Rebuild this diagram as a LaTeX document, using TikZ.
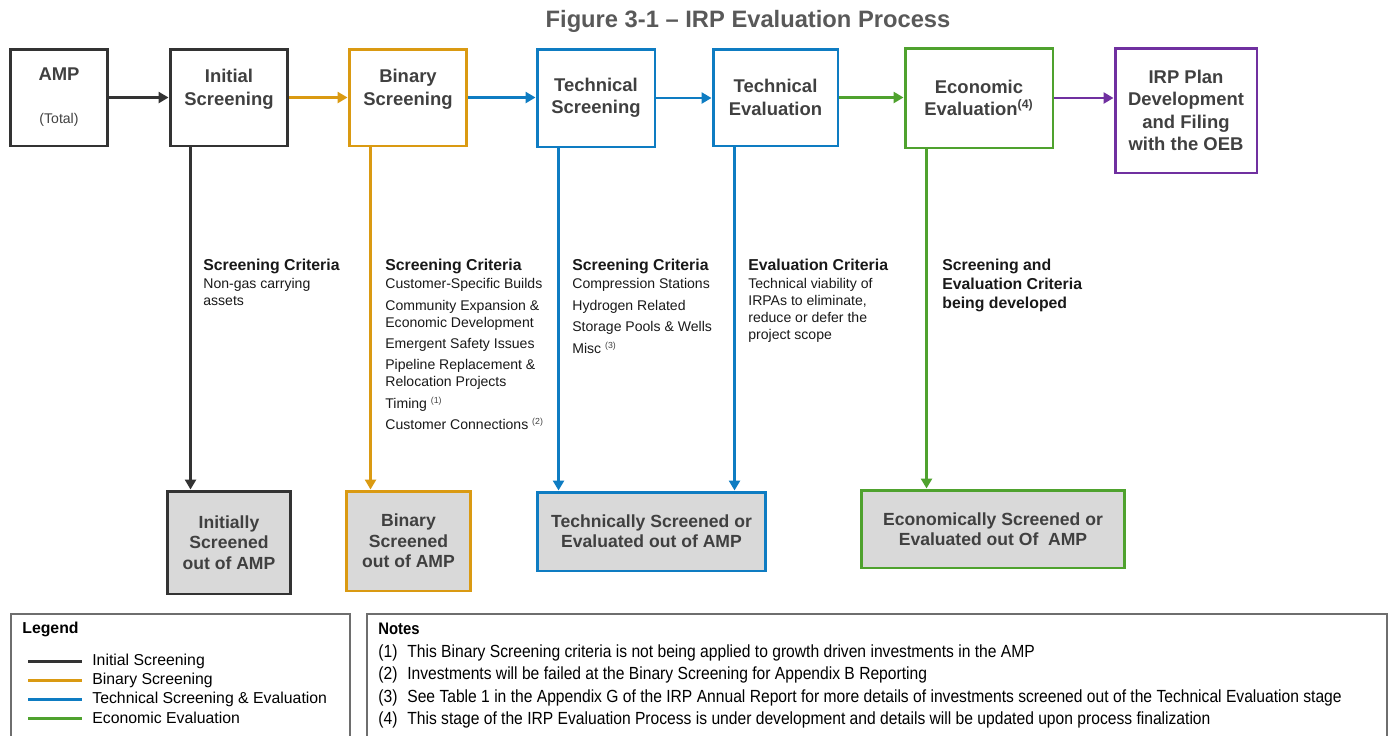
\documentclass[tikz,border=0pt]{standalone}
\usepackage{fontspec}
\setmainfont{Liberation Sans}
\newfontfamily\narrowfont{Liberation Sans}[FakeStretch=0.89]
\usetikzlibrary{arrows.meta}
\tikzset{>={Triangle[width=2.2mm,length=2mm]}}

\definecolor{ISdark}{HTML}{333333}
\definecolor{BSorange}{HTML}{DA9A12}
\definecolor{TSblue}{HTML}{0E7CC2}
\definecolor{EEgreen}{HTML}{4FA22E}
\definecolor{IRPpurple}{HTML}{7030A0}
\definecolor{outgray}{HTML}{D9D9D9}
\definecolor{txtgray}{HTML}{404040}
\definecolor{titlegray}{HTML}{595959}
\definecolor{framegray}{HTML}{6E6E6E}

\tikzset{
  stage/.style={draw=#1, line width=1.7pt, align=center, inner sep=2pt,
    font=\fontsize{10.5}{12.8}\selectfont\bfseries, text=txtgray},
  outbox/.style={draw=#1, fill=outgray, line width=1.7pt, align=center, inner sep=2pt,
    font=\fontsize{10}{11.6}\selectfont\bfseries, text=txtgray},
  flow/.style={->, draw=#1, line width=1.6pt},
  crit/.style={anchor=north west, align=left, inner sep=0pt,
    font=\fontsize{8}{9.6}\selectfont, text=black!90},
  frame/.style={draw=framegray, line width=1.2pt},
}
\newcommand{\crithead}[1]{{\fontsize{9}{9.6}\selectfont\bfseries #1}}
\newcommand{\fnmark}[1]{\textsuperscript{\textcolor{txtgray}{\fontsize{5}{6}\selectfont(#1)}}}

\begin{document}
\begin{tikzpicture}[x=0.02cm,y=-0.02cm]
\useasboundingbox (0,0) rectangle (1390,735);

\node[font=\fontsize{13.5}{16}\selectfont\bfseries, text=titlegray] (title) at (748,21)
  {Figure 3-1 -- IRP Evaluation Process};

% top row
\node[stage=ISdark, minimum width=1.96cm, minimum height=1.94cm] (amp) at (59,97.5)
  {AMP\\[11.6pt]{\fontsize{8}{9.6}\selectfont\mdseries(Total)}};
\node[stage=ISdark, minimum width=2.36cm, minimum height=1.94cm] (init) at (229,97.5)
  {Initial\\Screening\\[-1pt]\mbox{}};
\node[stage=BSorange, minimum width=2.36cm, minimum height=1.94cm] (bin) at (408,97.5)
  {Binary\\Screening\\[-1pt]\mbox{}};
\node[stage=TSblue, minimum width=2.36cm, minimum height=1.96cm] (tscr) at (596,98)
  {Technical\\Screening};
\node[stage=TSblue, minimum width=2.5cm, minimum height=1.94cm] (teval) at (775.5,97.5)
  {Technical\\Evaluation};
\node[stage=EEgreen, minimum width=2.96cm, minimum height=2cm] (econ) at (979,98)
  {Economic\\Evaluation\textsuperscript{\fontsize{7}{8}\selectfont(4)}};
\node[stage=IRPpurple, minimum width=2.84cm, minimum height=2.5cm] (irp) at (1186,110.5)
  {IRP Plan\\Development\\and Filing\\with the OEB};

% bottom row
\node[outbox=ISdark, minimum width=2.48cm, minimum height=2.06cm] (initout) at (229,542.5)
  {Initially\\Screened\\out of AMP};
\node[outbox=BSorange, minimum width=2.5cm, minimum height=2cm] (binout) at (408.5,541)
  {Binary\\Screened\\out of AMP};
\node[outbox=TSblue, minimum width=4.58cm, minimum height=1.58cm] (techout) at (651.5,531.5)
  {Technically Screened or\\Evaluated out of AMP};
\node[outbox=EEgreen, minimum width=5.28cm, minimum height=1.56cm] (econout) at (993,529)
  {Economically Screened or\\Evaluated out Of\ \ AMP};

% flow along the top
\draw[flow=ISdark] (amp.east) -- (amp.east -| init.west);
\draw[flow=BSorange] (init.east) -- (init.east -| bin.west);
\draw[flow=TSblue] (bin.east) -- (bin.east -| tscr.west);
\draw[flow=TSblue] (tscr.east) -- (tscr.east -| teval.west);
\draw[flow=EEgreen] (teval.east) -- (teval.east -| econ.west);
\draw[flow=IRPpurple] (econ.east) -- (econ.east -| irp.west);

% screened out
\draw[flow=ISdark] ([xshift=0.44cm]init.south west) -- ([xshift=0.44cm]init.south west |- initout.north);
\draw[flow=BSorange] ([xshift=0.46cm]bin.south west) -- ([xshift=0.46cm]bin.south west |- binout.north);
\draw[flow=TSblue] ([xshift=0.46cm]tscr.south west) -- ([xshift=0.46cm]tscr.south west |- techout.north);
\draw[flow=TSblue] ([xshift=0.46cm]teval.south west) -- ([xshift=0.46cm]teval.south west |- techout.north);
\draw[flow=EEgreen] ([xshift=0.46cm]econ.south west) -- ([xshift=0.46cm]econ.south west |- econout.north);

% criteria
\node[crit] (initcrit) at (203,259)
  {\crithead{Screening Criteria}\\[0.6pt]Non-gas carrying\\assets};
\node[crit] (bincrit) at (385,259)
  {\crithead{Screening Criteria}\\[0.6pt]Customer-Specific Builds\\[2.6pt]
   Community Expansion \&\\Economic Development\\[2.6pt]
   Emergent Safety Issues\\[2.6pt]
   Pipeline Replacement \&\\Relocation Projects\\[2.6pt]
   Timing \fnmark{1}\\[2.6pt]
   Customer Connections \fnmark{2}};
\node[crit] (tscrcrit) at (572,259)
  {\crithead{Screening Criteria}\\[0.6pt]Compression Stations\\[2.6pt]
   Hydrogen Related\\[2.6pt]Storage Pools \& Wells\\[2.6pt]Misc \fnmark{3}};
\node[crit] (tevalcrit) at (748,259)
  {\crithead{Evaluation Criteria}\\[0.6pt]Technical viability of\\IRPAs to eliminate,\\
   reduce or defer the\\project scope};
\node[crit, font=\fontsize{9}{10.8}\selectfont\bfseries] (econcrit) at (942,259)
  {Screening and\\Evaluation Criteria\\being developed};

% legend
\draw[frame] (11,614) rectangle (350,745);
\node[anchor=west, inner sep=0pt, font=\fontsize{9}{11}\selectfont\bfseries] (legtitle) at (22,629) {Legend};
\foreach \c/\t [count=\i] in {ISdark/Initial Screening, BSorange/Binary Screening,
    TSblue/Technical Screening \& Evaluation, EEgreen/Economic Evaluation} {
  \draw[\c, line width=1.7pt] (28,642+19*\i) -- (82,642+19*\i);
  \node[anchor=west, inner sep=0pt, font=\fontsize{9}{11}\selectfont] (leg\i) at (92,642+19*\i) {\t};
}

% notes
\draw[frame] (367,614) rectangle (1387,745);
\node[anchor=west, inner sep=0pt, font=\narrowfont\fontsize{9.5}{11}\selectfont\bfseries] (notetitle) at (378,629) {Notes};
\foreach \t [count=\i] in {This Binary Screening criteria is not being applied to growth driven investments in the AMP,
    Investments will be failed at the Binary Screening for Appendix B Reporting,
    See Table 1 in the Appendix G of the IRP Annual Report for more details of investments screened out of the Technical Evaluation stage,
    This stage of the IRP Evaluation Process is under development and details will be updated upon process finalization} {
  \node[anchor=west, inner sep=0pt, font=\narrowfont\fontsize{10}{12}\selectfont] (num\i) at (378,630.5+22.4*\i) {(\i)};
  \node[anchor=west, inner sep=0pt, font=\narrowfont\fontsize{10}{12}\selectfont] (note\i) at (407,630.5+22.4*\i) {\t};
}
\end{tikzpicture}
\end{document}
